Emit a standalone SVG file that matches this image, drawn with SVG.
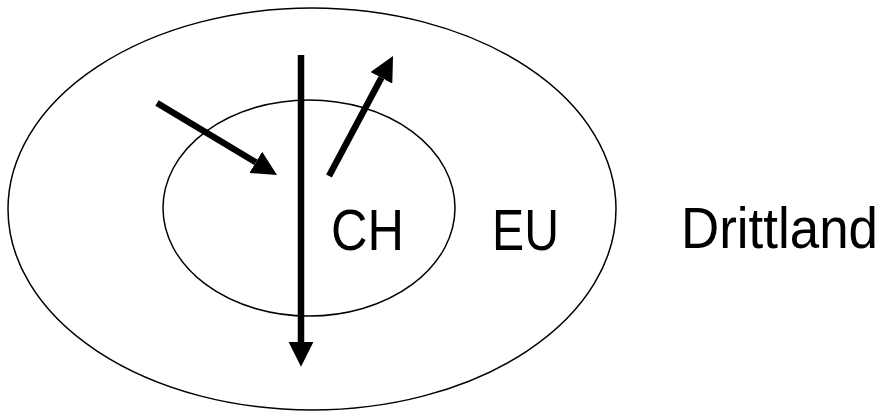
<svg xmlns="http://www.w3.org/2000/svg" width="892" height="416" viewBox="0 0 892 416">
<defs>
<style>
.ell{fill:none;stroke:#000;stroke-width:1.5}
.arr{fill:none;stroke:#000;stroke-width:6.5}
.lbl{font-family:"Liberation Sans",Arial,sans-serif;font-size:57px;fill:#000}
</style>
<marker id="ah" viewBox="0 0 10 10" refX="0" refY="5" markerWidth="3.8" markerHeight="3.8" markerUnits="strokeWidth" orient="auto">
<path d="M0,0 L10,5 L0,10 Z" fill="#000"/>
</marker>
</defs>
<rect width="892" height="416" fill="#fff"/>
<g id="drittland">
<text class="lbl" x="681" y="248" textLength="197" lengthAdjust="spacingAndGlyphs">Drittland</text>
</g>
<g id="eu">
<ellipse class="ell" cx="312" cy="209" rx="304" ry="201"/>
<text class="lbl" x="492" y="250" textLength="67" lengthAdjust="spacingAndGlyphs">EU</text>
</g>
<g id="ch">
<ellipse class="ell" cx="309" cy="208" rx="146" ry="108"/>
<text class="lbl" x="331" y="250" textLength="73" lengthAdjust="spacingAndGlyphs">CH</text>
</g>
<g id="connectors">
<line class="arr" x1="301" y1="55" x2="301" y2="342" marker-end="url(#ah)"/>
<line class="arr" x1="157" y1="103" x2="255.8" y2="162.3" marker-end="url(#ah)"/>
<line class="arr" x1="329" y1="176" x2="381.4" y2="77.8" marker-end="url(#ah)"/>
</g>
</svg>
